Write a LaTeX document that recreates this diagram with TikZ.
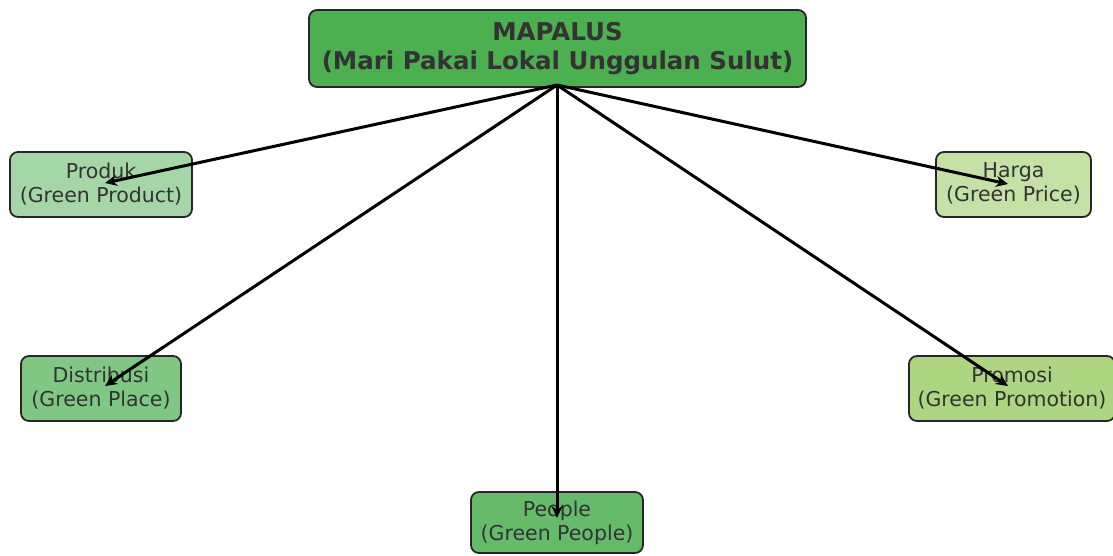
\documentclass[tikz,border=0pt]{standalone}
\usepackage{fontspec}
\setmainfont{DejaVu Sans}
\usetikzlibrary{arrows.meta}
\definecolor{cTop}{HTML}{4CAF50}
\definecolor{cProd}{HTML}{A5D6A7}
\definecolor{cHarga}{HTML}{C5E1A5}
\definecolor{cDist}{HTML}{81C784}
\definecolor{cProm}{HTML}{AED581}
\definecolor{cPeople}{HTML}{66BB6A}
\definecolor{txt}{HTML}{333333}
\tikzset{
  box/.style={draw=black!85, line width=1.8pt, rounded corners=8pt, inner sep=0pt,
    align=center, text=txt, font=\fontsize{20.5}{24}\selectfont},
  link/.style={line width=3pt, -{Stealth[length=12pt,width=11pt]}}
}
\begin{document}
\begin{tikzpicture}[x=1pt,y=-1pt]
\useasboundingbox (0,0) rectangle (1113,555);
\clip (0,0) rectangle (1113,555);
\node[box, fill=cTop, minimum width=497pt, minimum height=77pt, font=\fontsize{24.5}{29}\selectfont\bfseries] (top) at (557.5,48.5) {MAPALUS\\(Mari Pakai Lokal Unggulan Sulut)};
\node[box, fill=cProd, minimum width=182pt, minimum height=65pt, text depth=4pt] (produk) at (101,184.5) {Produk\\(Green Product)};
\node[box, fill=cHarga, minimum width=155pt, minimum height=65pt, text depth=4pt] (harga) at (1013.5,184.5) {Harga\\(Green Price)};
\node[box, fill=cDist, minimum width=160pt, minimum height=65pt, text depth=4pt] (dist) at (101,388.5) {Distribusi\\(Green Place)};
\node[box, fill=cProm, minimum width=206pt, minimum height=65pt, text depth=4pt] (prom) at (1012,388.5) {Promosi\\(Green Promotion)};
\node[box, fill=cPeople, minimum width=172pt, minimum height=61pt, text depth=4pt] (people) at (557,522.5) {People\\(Green People)};
\coordinate (o) at (557,85);
\coordinate (tp) at (105,183);
\coordinate (th) at (1008,184);
\coordinate (td) at (105,386);
\coordinate (tm) at (1008,386);
\coordinate (tpe) at (557,518);
\draw[link] (o) -- (tp);
\draw[link] (o) -- (th);
\draw[link] (o) -- (td);
\draw[link] (o) -- (tm);
\draw[link] (o) -- (tpe);
\end{tikzpicture}
\end{document}
